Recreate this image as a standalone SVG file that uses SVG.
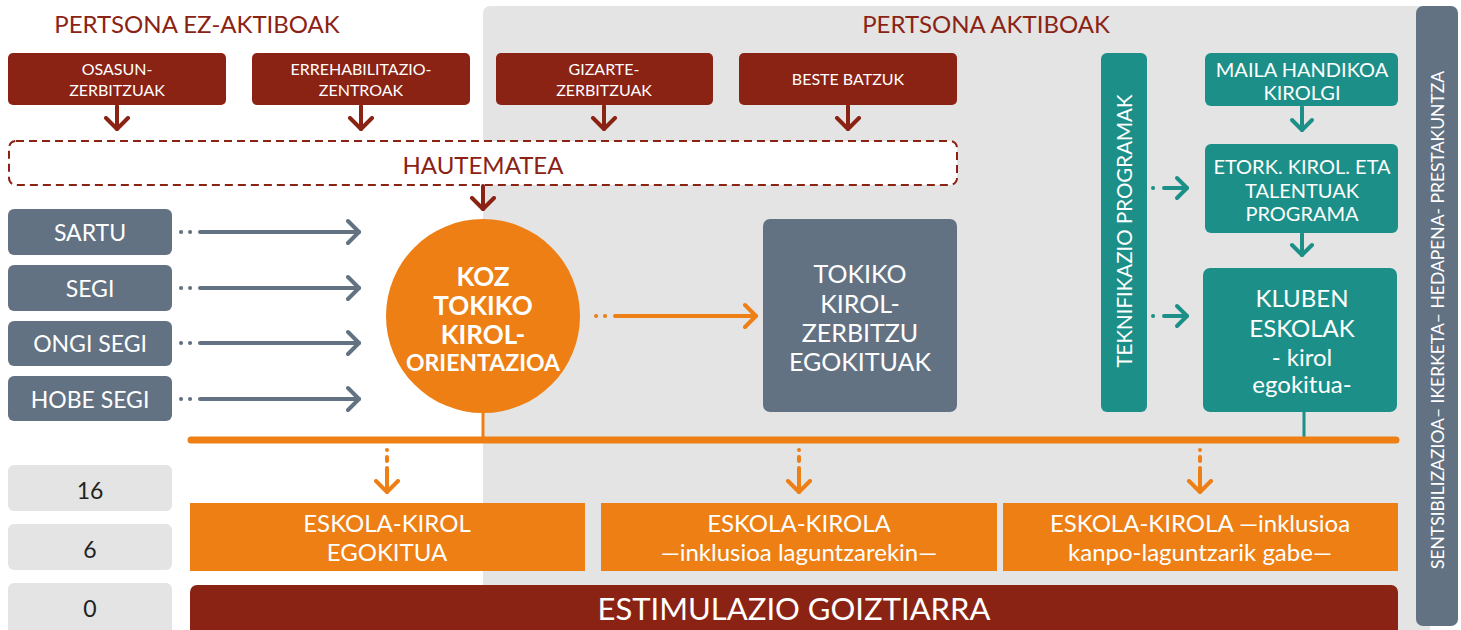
<svg xmlns="http://www.w3.org/2000/svg" width="1461" height="630" viewBox="0 0 1461 630">
<style>
text{font-family:Lato,"Open Sans","Liberation Sans",sans-serif;text-anchor:middle}
.w{fill:#fff}
.br{fill:#8b2314}
.or{fill:#ed7f14}
.sl{fill:#627282}
.te{fill:#1c9088}
.lg{fill:#e3e4e3}
.cb{stroke:#8b2314;stroke-width:4;fill:none;stroke-linecap:round}
.cs{stroke:#627282;stroke-width:4;fill:none;stroke-linecap:round}
.co{stroke:#ed7f14;stroke-width:4;fill:none;stroke-linecap:round}
.ct{stroke:#1c9088;stroke-width:4;fill:none;stroke-linecap:round}
.t16{font-size:16px}
.t20{font-size:20px}
.t24{font-size:24px}
.e24{font-size:24px}
.kb{font-size:26px;font-weight:700}
.num{fill:#222;font-size:23px}
</style>
<defs>
<marker id="mb" viewBox="0 0 16 28" markerUnits="userSpaceOnUse" markerWidth="16" markerHeight="28" refX="13" refY="14" orient="auto"><path d="M2,3 L13,14 L2,25" fill="none" stroke="#8b2314" stroke-width="4" stroke-linecap="round" stroke-linejoin="round"/></marker>
<marker id="ms" viewBox="0 0 16 28" markerUnits="userSpaceOnUse" markerWidth="16" markerHeight="28" refX="13" refY="14" orient="auto"><path d="M2,3 L13,14 L2,25" fill="none" stroke="#627282" stroke-width="4" stroke-linecap="round" stroke-linejoin="round"/></marker>
<marker id="mo" viewBox="0 0 16 28" markerUnits="userSpaceOnUse" markerWidth="16" markerHeight="28" refX="13" refY="14" orient="auto"><path d="M2,3 L13,14 L2,25" fill="none" stroke="#ed7f14" stroke-width="4" stroke-linecap="round" stroke-linejoin="round"/></marker>
<marker id="mt" viewBox="0 0 16 28" markerUnits="userSpaceOnUse" markerWidth="16" markerHeight="28" refX="13" refY="14" orient="auto"><path d="M3,4 L13,14 L3,24" fill="none" stroke="#1c9088" stroke-width="4" stroke-linecap="round" stroke-linejoin="round"/></marker>
</defs>
<rect width="1461" height="630" fill="#fff"/>
<path d="M491,6 H1430 V640 H483 V14 Q483,6 491,6 Z" class="lg"/>
<g id="title-inactive"><text x="197" y="33" class="br" style="font-size:24px">PERTSONA EZ-AKTIBOAK</text></g>
<g id="title-active"><text x="986" y="33" class="br" style="font-size:24px">PERTSONA AKTIBOAK</text></g>

<g id="n-osasun"><rect x="8" y="53" width="218" height="52" rx="5" class="br"/><text x="117" y="75" class="w t16">OSASUN-</text><text x="117" y="96" class="w t16">ZERBITZUAK</text></g>
<g id="n-errehab"><rect x="252" y="53" width="218" height="52" rx="5" class="br"/><text x="361" y="75" class="w t16">ERREHABILITAZIO-</text><text x="361" y="96" class="w t16">ZENTROAK</text></g>
<g id="n-gizarte"><rect x="496" y="53" width="217" height="52" rx="5" class="br"/><text x="604" y="75" class="w t16">GIZARTE-</text><text x="604" y="96" class="w t16">ZERBITZUAK</text></g>
<g id="n-beste"><rect x="739" y="53" width="218" height="52" rx="5" class="br"/><text x="848" y="85" class="w t16">BESTE BATZUK</text></g>

<g id="n-hautematea"><rect x="9" y="141" width="948" height="44" rx="7" fill="#fff" stroke="#8b2314" stroke-width="2" stroke-dasharray="8,5"/><text x="483" y="174" class="br" style="font-size:24px">HAUTEMATEA</text></g>

<g id="n-sartu"><rect x="8" y="209" width="164" height="46" rx="6" class="sl"/><text x="90" y="241" class="w" style="font-size:23px">SARTU</text></g>
<g id="n-segi"><rect x="8" y="265" width="164" height="46" rx="6" class="sl"/><text x="90" y="297" class="w" style="font-size:23px">SEGI</text></g>
<g id="n-ongi"><rect x="8" y="321" width="164" height="45" rx="6" class="sl"/><text x="90" y="352" class="w" style="font-size:23px">ONGI SEGI</text></g>
<g id="n-hobe"><rect x="8" y="376" width="164" height="45" rx="6" class="sl"/><text x="90" y="408" class="w" style="font-size:23px">HOBE SEGI</text></g>

<g id="n-koz"><circle cx="483" cy="316" r="97" class="or"/>
<text x="483" y="286" class="w kb">KOZ</text>
<text x="483" y="315" class="w kb">TOKIKO</text>
<text x="483" y="344" class="w kb">KIROL-</text>
<text x="483" y="371" class="w" style="font-size:23px;font-weight:700">ORIENTAZIOA</text></g>

<g id="n-tokiko"><rect x="763" y="219" width="194" height="193" rx="7" class="sl"/>
<text x="860" y="283" class="w" style="font-size:25px">TOKIKO</text>
<text x="860" y="313" class="w" style="font-size:25px">KIROL-</text>
<text x="860" y="342" class="w" style="font-size:25px">ZERBITZU</text>
<text x="860" y="371" class="w" style="font-size:25px">EGOKITUAK</text></g>

<g id="n-teknifikazio"><rect x="1101" y="53" width="46" height="359" rx="6" class="te"/><text transform="translate(1124,231) rotate(-90)" y="8" class="w" style="font-size:20.5px">TEKNIFIKAZIO PROGRAMAK</text></g>

<g id="n-maila"><rect x="1205" y="53" width="193" height="53" rx="6" class="te"/><text x="1302" y="77" class="w t20">MAILA HANDIKOA</text><text x="1302" y="100" class="w t20">KIROLGI</text></g>
<g id="n-etork"><rect x="1205" y="144" width="193" height="89" rx="6" class="te"/><text x="1302" y="174" class="w t20">ETORK. KIROL. ETA</text><text x="1302" y="198" class="w t20">TALENTUAK</text><text x="1302" y="221" class="w t20">PROGRAMA</text></g>
<g id="n-kluben"><rect x="1203" y="268" width="194" height="144" rx="7" class="te"/>
<text x="1302" y="307" class="w t24">KLUBEN</text><text x="1302" y="337" class="w t24">ESKOLAK</text><text x="1302" y="366" class="w t24">- kirol</text><text x="1302" y="393" class="w t24">egokitua-</text></g>

<g id="n-sidebar"><rect x="1416" y="6" width="42" height="620" rx="7" class="sl"/><text transform="translate(1438,320) rotate(-90)" y="6" class="w" style="font-size:17.5px">SENTSIBILIZAZIOA– IKERKETA– HEDAPENA- PRESTAKUNTZA</text></g>

<g id="n-num16"><rect x="8" y="465" width="164" height="46" rx="6" class="lg"/><text x="90" y="499" class="num">16</text></g>
<g id="n-num6"><rect x="8" y="524" width="164" height="46" rx="6" class="lg"/><text x="90" y="558" class="num">6</text></g>
<g id="n-num0"><rect x="8" y="583" width="164" height="52" rx="6" class="lg"/><text x="90" y="617" class="num">0</text></g>

<g id="n-eskola1"><rect x="190" y="503" width="395" height="68" class="or"/><text x="387" y="532" class="w e24">ESKOLA-KIROL</text><text x="387" y="561" class="w e24">EGOKITUA</text></g>
<g id="n-eskola2"><rect x="601" y="503" width="396" height="68" class="or"/><text x="799" y="532" class="w e24">ESKOLA-KIROLA</text><text x="799" y="561" class="w e24">—inklusioa laguntzarekin—</text></g>
<g id="n-eskola3"><rect x="1003" y="503" width="395" height="68" class="or"/><text x="1200" y="532" class="w e24">ESKOLA-KIROLA —inklusioa</text><text x="1200" y="561" class="w e24">kanpo-laguntzarik gabe—</text></g>

<g id="n-estimulazio"><rect x="190" y="585" width="1208" height="55" rx="7" class="br"/><text x="794" y="620" class="w" style="font-size:31px">ESTIMULAZIO GOIZTIARRA</text></g>

<g id="connectors">
<path d="M117,106V129" class="cb" marker-end="url(#mb)"/>
<path d="M361,106V129" class="cb" marker-end="url(#mb)"/>
<path d="M604,106V129" class="cb" marker-end="url(#mb)"/>
<path d="M848,106V129" class="cb" marker-end="url(#mb)"/>
<path d="M483,186V209" class="cb" marker-end="url(#mb)"/>
<path d="M181,232h0.1M190,232h0.1M200,232H359" class="cs" marker-end="url(#ms)"/>
<path d="M181,288h0.1M190,288h0.1M200,288H359" class="cs" marker-end="url(#ms)"/>
<path d="M181,343h0.1M190,343h0.1M200,343H359" class="cs" marker-end="url(#ms)"/>
<path d="M181,399h0.1M190,399h0.1M200,399H359" class="cs" marker-end="url(#ms)"/>
<path d="M596,316h0.1M605,316h0.1M615,316H756" class="co" marker-end="url(#mo)"/>
<path d="M483,412V440" stroke="#ed7f14" stroke-width="3" fill="none"/>
<path d="M1304,412V440" stroke="#1c9088" stroke-width="3" fill="none"/>
<path d="M191,440H1396" stroke="#ed7f14" stroke-width="7" stroke-linecap="round" fill="none"/>
<path d="M387,450v0.1M387,457v4M387,468V492" class="co" marker-end="url(#mo)"/>
<path d="M799,450v0.1M799,457v4M799,468V492" class="co" marker-end="url(#mo)"/>
<path d="M1200,450v0.1M1200,457v4M1200,468V492" class="co" marker-end="url(#mo)"/>
<path d="M1153,188h0.1M1164,188H1187" class="ct" marker-end="url(#mt)"/>
<path d="M1153,316h0.1M1164,316H1187" class="ct" marker-end="url(#mt)"/>
<path d="M1302,107V130" class="ct" marker-end="url(#mt)"/>
<path d="M1302,234V255" class="ct" marker-end="url(#mt)"/>
</g>
</svg>
